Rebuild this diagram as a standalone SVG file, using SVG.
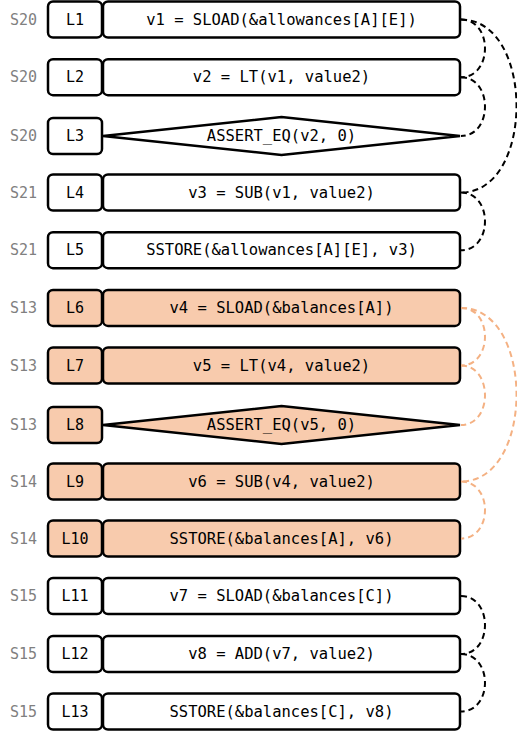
<svg xmlns="http://www.w3.org/2000/svg" width="517" height="731" viewBox="0 0 517 731">
<style>
  .box{fill:#fff;stroke:#000;stroke-width:2.5}
  .hl .box{fill:#f8cbad}
  .t{font-family:"DejaVu Sans Mono","Liberation Mono",monospace;font-size:15.5px;fill:#000;text-anchor:middle;dominant-baseline:central}
  .l{font-family:"DejaVu Sans Mono","Liberation Mono",monospace;font-size:15px;fill:#000;text-anchor:middle;dominant-baseline:central}
  .s{font-family:"DejaVu Sans Mono","Liberation Mono",monospace;font-size:15px;fill:#808080;text-anchor:middle;dominant-baseline:central}
  .c{fill:none;stroke:#000;stroke-width:2;stroke-dasharray:6 4}
  .co{fill:none;stroke:#f4b183;stroke-width:2;stroke-dasharray:6 4}
</style>
<g id="row1"><text class="s" x="23.5" y="19.5">S20</text><rect class="box" x="48" y="1.5" width="54" height="36" rx="5"/><text class="l" x="75" y="19.5">L1</text><rect class="box" x="103" y="1.5" width="357" height="36" rx="5"/><text class="t" x="281.5" y="19.5">v1 = SLOAD(&amp;allowances[A][E])</text></g>
<g id="row2"><text class="s" x="23.5" y="77.2">S20</text><rect class="box" x="48" y="59.2" width="54" height="36" rx="5"/><text class="l" x="75" y="77.2">L2</text><rect class="box" x="103" y="59.2" width="357" height="36" rx="5"/><text class="t" x="281.5" y="77.2">v2 = LT(v1, value2)</text></g>
<g id="row3"><text class="s" x="23.5" y="136">S20</text><rect class="box" x="48" y="118" width="54" height="36" rx="5"/><text class="l" x="75" y="136">L3</text><polygon class="box" points="103,136 281.5,117 460,136 281.5,155"/><text class="t" x="281.5" y="136">ASSERT_EQ(v2, 0)</text></g>
<g id="row4"><text class="s" x="23.5" y="192.5">S21</text><rect class="box" x="48" y="174.5" width="54" height="36" rx="5"/><text class="l" x="75" y="192.5">L4</text><rect class="box" x="103" y="174.5" width="357" height="36" rx="5"/><text class="t" x="281.5" y="192.5">v3 = SUB(v1, value2)</text></g>
<g id="row5"><text class="s" x="23.5" y="250.2">S21</text><rect class="box" x="48" y="232.2" width="54" height="36" rx="5"/><text class="l" x="75" y="250.2">L5</text><rect class="box" x="103" y="232.2" width="357" height="36" rx="5"/><text class="t" x="281.5" y="250.2">SSTORE(&amp;allowances[A][E], v3)</text></g>
<g id="row6" class="hl"><text class="s" x="23.5" y="307.9">S13</text><rect class="box" x="48" y="289.9" width="54" height="36" rx="5"/><text class="l" x="75" y="307.9">L6</text><rect class="box" x="103" y="289.9" width="357" height="36" rx="5"/><text class="t" x="281.5" y="307.9">v4 = SLOAD(&amp;balances[A])</text></g>
<g id="row7" class="hl"><text class="s" x="23.5" y="365.5">S13</text><rect class="box" x="48" y="347.5" width="54" height="36" rx="5"/><text class="l" x="75" y="365.5">L7</text><rect class="box" x="103" y="347.5" width="357" height="36" rx="5"/><text class="t" x="281.5" y="365.5">v5 = LT(v4, value2)</text></g>
<g id="row8" class="hl"><text class="s" x="23.5" y="425">S13</text><rect class="box" x="48" y="407" width="54" height="36" rx="5"/><text class="l" x="75" y="425">L8</text><polygon class="box" points="103,425 281.5,406 460,425 281.5,444"/><text class="t" x="281.5" y="425">ASSERT_EQ(v5, 0)</text></g>
<g id="row9" class="hl"><text class="s" x="23.5" y="481.5">S14</text><rect class="box" x="48" y="463.5" width="54" height="36" rx="5"/><text class="l" x="75" y="481.5">L9</text><rect class="box" x="103" y="463.5" width="357" height="36" rx="5"/><text class="t" x="281.5" y="481.5">v6 = SUB(v4, value2)</text></g>
<g id="row10" class="hl"><text class="s" x="23.5" y="538.5">S14</text><rect class="box" x="48" y="520.5" width="54" height="36" rx="5"/><text class="l" x="75" y="538.5">L10</text><rect class="box" x="103" y="520.5" width="357" height="36" rx="5"/><text class="t" x="281.5" y="538.5">SSTORE(&amp;balances[A], v6)</text></g>
<g id="row11"><text class="s" x="23.5" y="596">S15</text><rect class="box" x="48" y="578" width="54" height="36" rx="5"/><text class="l" x="75" y="596">L11</text><rect class="box" x="103" y="578" width="357" height="36" rx="5"/><text class="t" x="281.5" y="596">v7 = SLOAD(&amp;balances[C])</text></g>
<g id="row12"><text class="s" x="23.5" y="654">S15</text><rect class="box" x="48" y="636" width="54" height="36" rx="5"/><text class="l" x="75" y="654">L12</text><rect class="box" x="103" y="636" width="357" height="36" rx="5"/><text class="t" x="281.5" y="654">v8 = ADD(v7, value2)</text></g>
<g id="row13"><text class="s" x="23.5" y="711.5">S15</text><rect class="box" x="48" y="693.5" width="54" height="36" rx="5"/><text class="l" x="75" y="711.5">L13</text><rect class="box" x="103" y="693.5" width="357" height="36" rx="5"/><text class="t" x="281.5" y="711.5">SSTORE(&amp;balances[C], v8)</text></g>
<g id="connectors">
  <path class="c" d="M461,19.5 C493,19.5 493,77.2 461,77.2"/>
  <path class="c" d="M461,77.2 C493,77.2 493,136 461,136"/>
  <path class="c" d="M461,19.5 C535,19.5 535,192.5 461,192.5"/>
  <path class="c" d="M461,192.5 C493,192.5 493,250.2 461,250.2"/>
  <path class="co" d="M461,307.9 C493,307.9 493,365.5 461,365.5"/>
  <path class="co" d="M461,365.5 C493,365.5 493,425 461,425"/>
  <path class="co" d="M461,307.9 C535,307.9 535,481.5 461,481.5"/>
  <path class="co" d="M461,481.5 C493,481.5 493,538.5 461,538.5"/>
  <path class="c" d="M461,596 C493,596 493,654 461,654"/>
  <path class="c" d="M461,654 C493,654 493,711.5 461,711.5"/>
</g>
</svg>
